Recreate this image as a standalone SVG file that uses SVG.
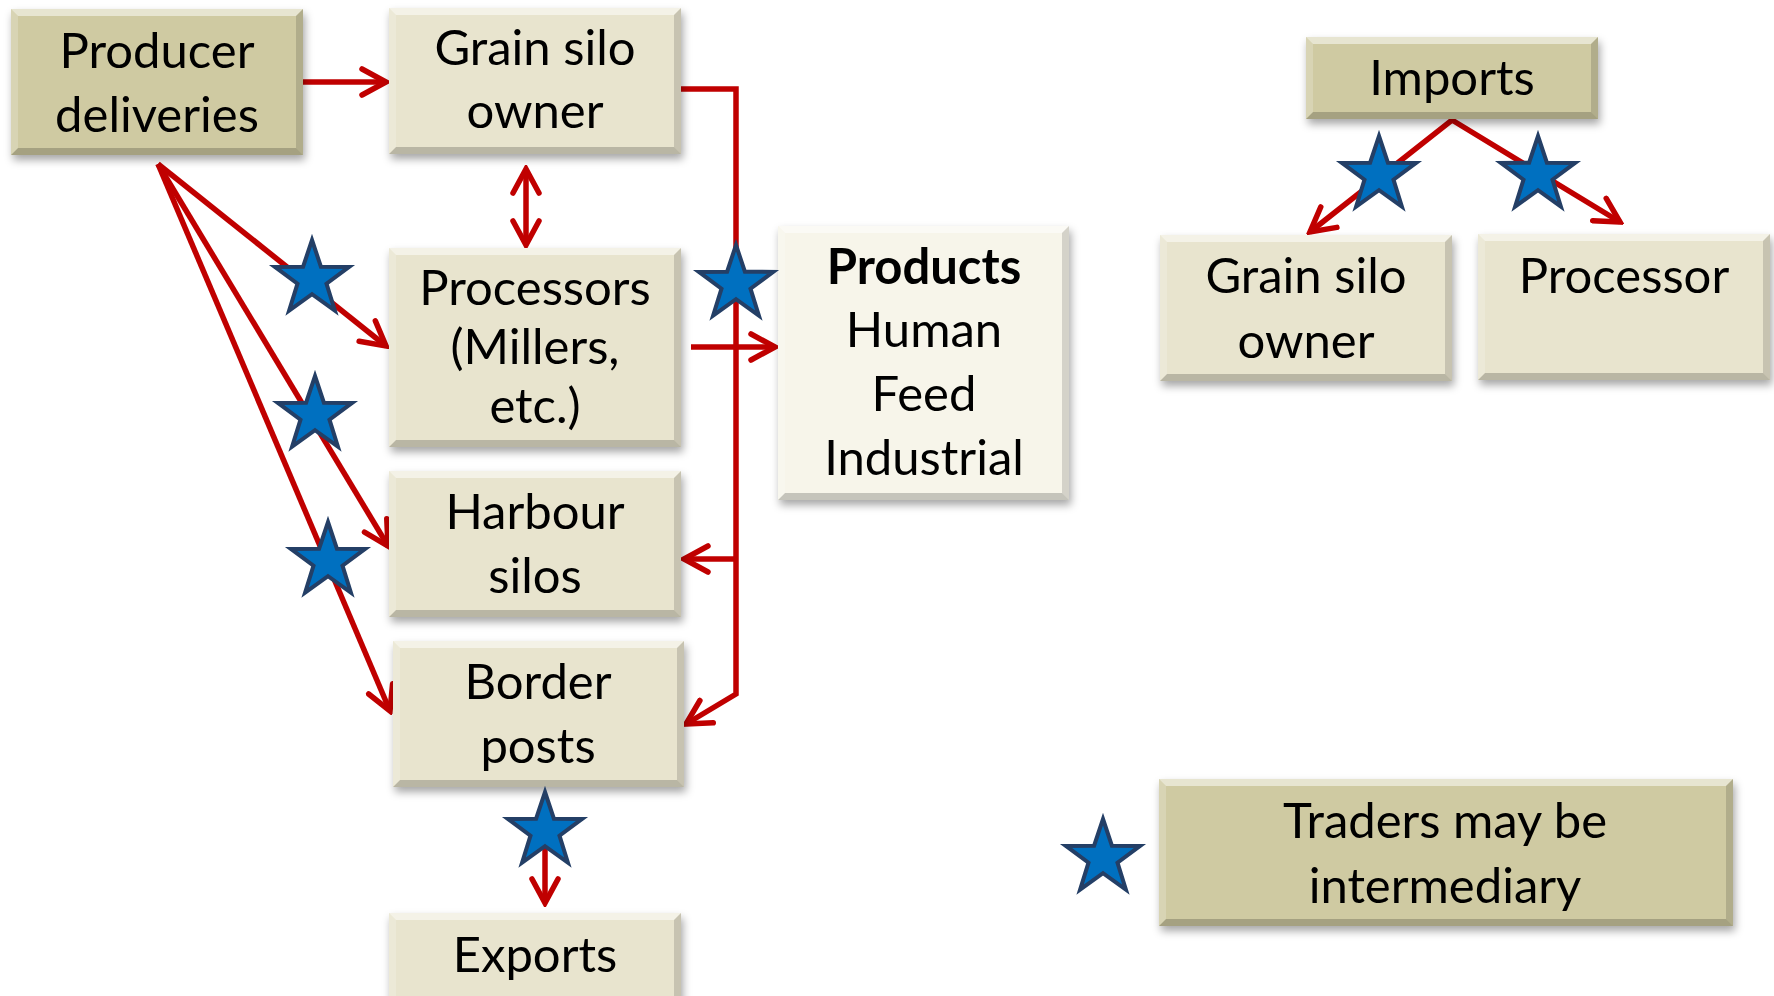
<svg xmlns="http://www.w3.org/2000/svg" width="1774" height="996" viewBox="0 0 1774 996">
<defs>
<filter id="sh" x="-10%" y="-10%" width="120%" height="130%">
<feDropShadow dx="2" dy="5" stdDeviation="4" flood-color="#000" flood-opacity="0.35"/>
</filter>
<marker id="ah" markerUnits="userSpaceOnUse" viewBox="-28 -16 32 32" refX="0" refY="0" markerWidth="32" markerHeight="32" orient="auto-start-reverse">
<path d="M-24,-13 L0,0 L-24,13" fill="none" stroke="#c00000" stroke-width="5.5" stroke-linecap="round" stroke-linejoin="miter"/>
</marker>
<path id="star" d="M0,-39 L8.9,-12.3 L37.1,-12.05 L14.5,4.7 L22.9,31.55 L0,15.2 L-22.9,31.55 L-14.5,4.7 L-37.1,-12.05 L-8.9,-12.3 Z"/>
</defs>
<style>
.dark{fill:#cfcaa2}
.light{fill:#e8e4ce}
.pale{fill:#f7f5ea}
.bx{filter:url(#sh)}
.bt{fill:#fff;opacity:0.5}
.bl{fill:#fff;opacity:0.2}
.br{fill:#000;opacity:0.14}
.bb{fill:#000;opacity:0.2}
text{font-family:Lato,"Liberation Sans",sans-serif;font-size:49px;fill:#000;text-anchor:middle}
.b{font-weight:bold}
.ln{fill:none;stroke:#c00000;stroke-width:5.5}
.st{fill:#0070c0;stroke:#243f66;stroke-width:4;stroke-linejoin:miter}
</style>
<rect width="1774" height="996" fill="#fff"/>

<g id="connectors">
<line class="ln" x1="303" y1="82" x2="386" y2="82" marker-end="url(#ah)"/>
<line class="ln" x1="526" y1="169" x2="526" y2="245" marker-start="url(#ah)" marker-end="url(#ah)"/>
<line class="ln" x1="158" y1="164" x2="386" y2="346" marker-end="url(#ah)"/>
<line class="ln" x1="158" y1="164" x2="388" y2="546" marker-end="url(#ah)"/>
<line class="ln" x1="158" y1="164" x2="390" y2="711" marker-end="url(#ah)"/>
<polyline class="ln" points="681,89 736,89 736,694 686,724" marker-end="url(#ah)"/>
<line class="ln" x1="736" y1="559" x2="684" y2="559" marker-end="url(#ah)"/>
<line class="ln" x1="691" y1="347" x2="775" y2="347" marker-end="url(#ah)"/>
<line class="ln" x1="545" y1="800" x2="545" y2="903" marker-end="url(#ah)"/>
<polyline class="ln" points="1310,232 1452,120 1620,222" marker-start="url(#ah)" marker-end="url(#ah)"/>
</g>

<g id="producer">
<rect class="dark bx" x="11" y="9" width="292" height="146"/>
<path class="bt" d="M11 9H303L296 16H18Z"/><path class="bb" d="M11 155H303L296 148H18Z"/><path class="bl" d="M11 9V155L18 148V16Z"/><path class="br" d="M303 9V155L296 148V16Z"/>
<text x="157" y="68">Producer</text><text x="157" y="132">deliveries</text>
</g>

<g id="grain-silo-owner">
<rect class="light bx" x="389" y="8" width="292" height="146"/>
<path class="bt" d="M389 8H681L674 15H396Z"/><path class="bb" d="M389 154H681L674 147H396Z"/><path class="bl" d="M389 8V154L396 147V15Z"/><path class="br" d="M681 8V154L674 147V15Z"/>
<text x="535" y="65">Grain silo</text><text x="535" y="128">owner</text>
</g>

<g id="processors">
<rect class="light bx" x="389" y="248" width="292" height="199"/>
<path class="bt" d="M389 248H681L674 255H396Z"/><path class="bb" d="M389 447H681L674 440H396Z"/><path class="bl" d="M389 248V447L396 440V255Z"/><path class="br" d="M681 248V447L674 440V255Z"/>
<text x="535" y="305">Processors</text><text x="535" y="364">(Millers,</text><text x="535" y="423">etc.)</text>
</g>

<g id="harbour-silos">
<rect class="light bx" x="389" y="471" width="292" height="146"/>
<path class="bt" d="M389 471H681L674 478H396Z"/><path class="bb" d="M389 617H681L674 610H396Z"/><path class="bl" d="M389 471V617L396 610V478Z"/><path class="br" d="M681 471V617L674 610V478Z"/>
<text x="535" y="529">Harbour</text><text x="535" y="593">silos</text>
</g>

<g id="border-posts">
<rect class="light bx" x="393" y="641" width="291" height="146"/>
<path class="bt" d="M393 641H684L677 648H400Z"/><path class="bb" d="M393 787H684L677 780H400Z"/><path class="bl" d="M393 641V787L400 780V648Z"/><path class="br" d="M684 641V787L677 780V648Z"/>
<text x="538" y="699">Border</text><text x="538" y="763">posts</text>
</g>

<g id="exports">
<rect class="light bx" x="389" y="913" width="292" height="90"/>
<path class="bt" d="M389 913H681L674 920H396Z"/><path class="bl" d="M389 913V1003L396 996V920Z"/><path class="br" d="M681 913V1003L674 996V920Z"/>
<text x="535" y="972">Exports</text>
</g>

<g id="products">
<rect class="pale bx" x="778" y="226" width="291" height="274"/>
<path class="bt" d="M778 226H1069L1062 233H785Z"/><path class="bb" d="M778 500H1069L1062 493H785Z"/><path class="bl" d="M778 226V500L785 493V233Z"/><path class="br" d="M1069 226V500L1062 493V233Z"/>
<text class="b" x="924" y="284">Products</text><text x="924" y="347">Human</text><text x="924" y="411">Feed</text><text x="924" y="475">Industrial</text>
</g>

<g id="imports">
<rect class="dark bx" x="1306" y="37" width="292" height="82"/>
<path class="bt" d="M1306 37H1598L1591 44H1313Z"/><path class="bb" d="M1306 119H1598L1591 112H1313Z"/><path class="bl" d="M1306 37V119L1313 112V44Z"/><path class="br" d="M1598 37V119L1591 112V44Z"/>
<text x="1452" y="95">Imports</text>
</g>

<g id="grain-silo-owner-2">
<rect class="light bx" x="1160" y="235" width="292" height="146"/>
<path class="bt" d="M1160 235H1452L1445 242H1167Z"/><path class="bb" d="M1160 381H1452L1445 374H1167Z"/><path class="bl" d="M1160 235V381L1167 374V242Z"/><path class="br" d="M1452 235V381L1445 374V242Z"/>
<text x="1306" y="293">Grain silo</text><text x="1306" y="358">owner</text>
</g>

<g id="processor">
<rect class="light bx" x="1478" y="234" width="292" height="146"/>
<path class="bt" d="M1478 234H1770L1763 241H1485Z"/><path class="bb" d="M1478 380H1770L1763 373H1485Z"/><path class="bl" d="M1478 234V380L1485 373V241Z"/><path class="br" d="M1770 234V380L1763 373V241Z"/>
<text x="1624" y="293">Processor</text>
</g>

<g id="stars">
<use href="#star" class="st" x="312" y="279"/>
<use href="#star" class="st" x="315" y="415"/>
<use href="#star" class="st" x="328" y="561"/>
<use href="#star" class="st" x="736" y="284"/>
<use href="#star" class="st" x="545" y="831"/>
<use href="#star" class="st" x="1379" y="175"/>
<use href="#star" class="st" x="1538" y="175"/>
</g>

<g id="legend">
<use href="#star" class="st" x="1103" y="858"/>
<rect class="dark bx" x="1159" y="779" width="574" height="147"/>
<path class="bt" d="M1159 779H1733L1726 786H1166Z"/><path class="bb" d="M1159 926H1733L1726 919H1166Z"/><path class="bl" d="M1159 779V926L1166 919V786Z"/><path class="br" d="M1733 779V926L1726 919V786Z"/>
<text x="1445" y="838">Traders may be</text><text x="1445" y="903">intermediary</text>
</g>
</svg>
